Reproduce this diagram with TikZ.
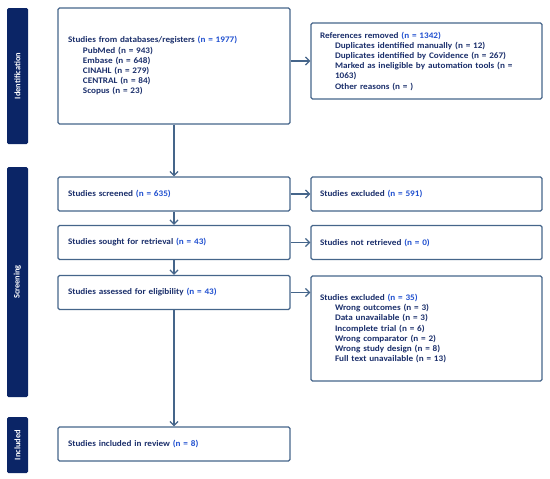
\documentclass[tikz,border=0pt]{standalone}
\usepackage{fontspec}
\setmainfont{Carlito}[FakeStretch=1.08]
\newfontfamily\stagefont{Carlito}
\usetikzlibrary{arrows.meta, positioning}
\definecolor{barnavy}{RGB}{11,37,102}
\definecolor{boxline}{RGB}{69,101,138}
\definecolor{txtnavy}{RGB}{27,47,107}
\definecolor{numblue}{RGB}{31,79,207}
\newcommand{\num}[1]{\textcolor{numblue}{#1}}
\newcommand{\sub}{\hspace*{15pt}}

\begin{document}
\begin{tikzpicture}[x=1pt, y=-1pt,
  leftbox/.style={draw=boxline, line width=1.3pt, rounded corners=1.5pt, text=txtnavy,
    font=\fontsize{8.5}{10.2}\selectfont\bfseries, align=left, text width=212pt,
    inner xsep=10pt, inner ysep=0pt, minimum height=34pt},
  rightbox/.style={leftbox, text width=213pt, inner xsep=9pt},
  stage/.style={fill=barnavy, rounded corners=1.5pt, text=white, minimum height=21pt,
    font=\stagefont\fontsize{8.4}{10}\selectfont\bfseries, rotate=90, inner sep=0pt},
  arrow/.style={-{Straight Barb[length=4pt, width=8pt]}, draw=boxline, line width=1.3pt}
]
\useasboundingbox (0,0) rectangle (550,479);

% stage bars
\node[stage, minimum width=136pt] (ident) at (17.5,76) {Identification};
\node[stage, minimum width=230pt] (screen) at (17.5,282) {Screening};
\node[stage, minimum width=56pt] (incl) at (17.5,445) {Included};

% left column
\node[leftbox, minimum height=116pt] (db) at (174,66) {Studies from databases/registers \num{(n = 1977)}\\
\sub PubMed (n = 943)\\
\sub Embase (n = 648)\\
\sub CINAHL (n = 279)\\
\sub CENTRAL (n = 84)\\
\sub Scopus (n = 23)};
\node[leftbox] (screened) at (174,194) {Studies screened \num{(n = 635)}};
\node[leftbox] (sought) at (174,242.5) {Studies sought for retrieval \num{(n = 43)}};
\node[leftbox] (assessed) at (174,292.5) {Studies assessed for eligibility \num{(n = 43)}};
\node[leftbox] (included) at (174,444) {Studies included in review \num{(n = 8)}};

% right column
\node[rightbox, minimum height=76pt] (removed) at (426.5,61) {References removed \num{(n = 1342)}\\
\sub Duplicates identified manually (n = 12)\\
\sub Duplicates identified by Covidence (n = 267)\\
\sub Marked as ineligible by automation tools (n =\\
\sub 1063)\\
\sub Other reasons (n = )};
\node[rightbox] (excluded) at (426.5,194) {Studies excluded \num{(n = 591)}};
\node[rightbox] (notret) at (426.5,242.5) {Studies not retrieved \num{(n = 0)}};
\node[rightbox, minimum height=105pt] (excl2) at (426.5,328.5) {Studies excluded \num{(n = 35)}\\
\sub Wrong outcomes (n = 3)\\
\sub Data unavailable (n = 3)\\
\sub Incomplete trial (n = 6)\\
\sub Wrong comparator (n = 2)\\
\sub Wrong study design (n = 8)\\
\sub Full text unavailable (n = 13)};

% arrows
\draw[arrow] (db) -- (screened);
\draw[arrow] (screened) -- (sought);
\draw[arrow] (sought) -- (assessed);
\draw[arrow] (assessed) -- (included);
\draw[arrow] (db.east |- removed) -- (removed);
\draw[arrow] (screened) -- (excluded);
\draw[arrow] (sought) -- (notret);
\draw[arrow] (assessed) -- (assessed -| excl2.west);

\end{tikzpicture}
\end{document}
